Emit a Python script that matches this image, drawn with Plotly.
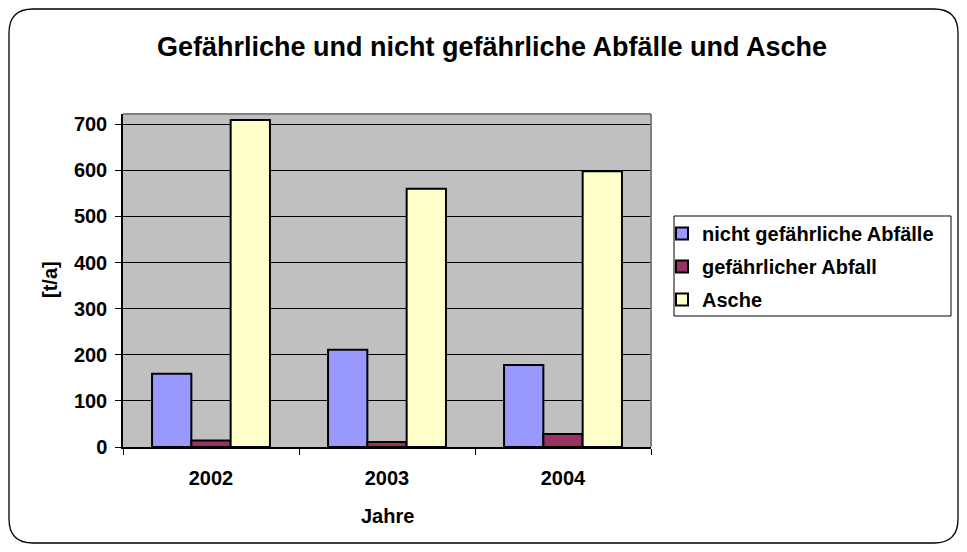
import plotly.graph_objects as go

years = ["2002", "2003", "2004"]
nicht_gefaehrlich = [159, 211, 178]
gefaehrlich = [14, 11, 28]
asche = [709, 560, 598]

series_names = ["nicht gefährliche Abfälle", "gefährlicher Abfall", "Asche"]
series_colors = ["#9999FF", "#993366", "#FFFFCC"]
y_ticks = [0, 100, 200, 300, 400, 500, 600, 700]

# the page body has an 8px default margin on every side; size the figure so the
# whole document is exactly the 967x552 window
OFF = 8
W, H = 967 - OFF, 552 - 2 * OFF
FONT = "Liberation Sans, Arial, sans-serif"


def px(x):
    return (x - OFF) / W


def py(y):
    return 1 - (y - OFF) / H


fig = go.Figure()
for name, vals, col in zip(series_names, [nicht_gefaehrlich, gefaehrlich, asche], series_colors):
    fig.add_trace(go.Bar(
        x=years, y=vals, name=name, legendgroup=name,
        marker=dict(color=col, line=dict(color="black", width=2)),
    ))

# plot area (window pixel coordinates)
X0, X1, Y0, Y1 = 123, 651, 114, 447

# rounded outer frame
l, r, t, b, rad = 9, 958, 9, 543, 24
path = (
    f"M {px(l+rad)},{py(t)} L {px(r-rad)},{py(t)} Q {px(r)},{py(t)} {px(r)},{py(t+rad)} "
    f"L {px(r)},{py(b-rad)} Q {px(r)},{py(b)} {px(r-rad)},{py(b)} "
    f"L {px(l+rad)},{py(b)} Q {px(l)},{py(b)} {px(l)},{py(b-rad)} "
    f"L {px(l)},{py(t+rad)} Q {px(l)},{py(t)} {px(l+rad)},{py(t)} Z"
)
shapes = [
    dict(type="path", xref="paper", yref="paper", path=path,
         line=dict(color="black", width=1.3), layer="below"),
    dict(type="line", xref="paper", yref="paper", x0=px(X0), x1=px(X1), y0=py(Y0), y1=py(Y0),
         line=dict(color="#808080", width=2), layer="above"),
    dict(type="line", xref="paper", yref="paper", x0=px(X1), x1=px(X1), y0=py(Y0), y1=py(Y1),
         line=dict(color="#808080", width=2), layer="above"),
    dict(type="rect", xref="paper", yref="paper", x0=px(674), x1=px(951), y0=py(216), y1=py(316),
         line=dict(color="black", width=1), fillcolor="white", layer="below"),
]

BOLD = dict(family=FONT, color="black", weight="bold")

annotations = [
    dict(text="Gefährliche und nicht gefährliche Abfälle und Asche", xref="paper", yref="paper",
         x=px(492), y=py(47), showarrow=False, xanchor="center", yanchor="middle",
         font=dict(size=27, **BOLD)),
    dict(text="Jahre", xref="paper", yref="paper",
         x=px(387), y=py(516), showarrow=False, xanchor="center", yanchor="middle",
         font=dict(size=20, **BOLD)),
    dict(text="[t/a]", xref="paper", yref="paper",
         x=px(50), y=py(280), showarrow=False, xanchor="center", yanchor="middle", textangle=-90,
         font=dict(size=20, **BOLD)),
]

fig.update_layout(
    width=W, height=H,
    margin=dict(l=0, r=0, t=0, b=0, autoexpand=False),
    paper_bgcolor="white",
    plot_bgcolor="#C0C0C0",
    barmode="group", bargap=0.33, bargroupgap=0,
    font=dict(size=20, **BOLD),
    showlegend=True,
    legend=dict(x=px(662), y=py(214), xanchor="left", yanchor="top",
                bgcolor="rgba(0,0,0,0)", borderwidth=0,
                font=dict(size=20, **BOLD),
                traceorder="grouped", tracegroupgap=4),
    shapes=shapes,
    annotations=annotations,
    xaxis=dict(domain=[px(X0), px(X1)], type="category", tickson="boundaries",
               automargin=False,
               ticks="outside", ticklen=6, tickcolor="black", tickwidth=1,
               showline=True, linecolor="black", linewidth=1.5,
               showgrid=False, tickfont=dict(size=20, **BOLD),
               ticklabelstandoff=12),
    yaxis=dict(domain=[py(Y1), py(Y0)], range=[0, 722], tickvals=y_ticks,
               automargin=False,
               ticks="outside", ticklen=6, tickcolor="black", tickwidth=1,
               showline=True, linecolor="black", linewidth=1.5,
               showgrid=True, gridcolor="black", gridwidth=1, zeroline=False,
               tickfont=dict(size=20, **BOLD), ticklabelstandoff=4),
)

fig.write_html("out.html")
